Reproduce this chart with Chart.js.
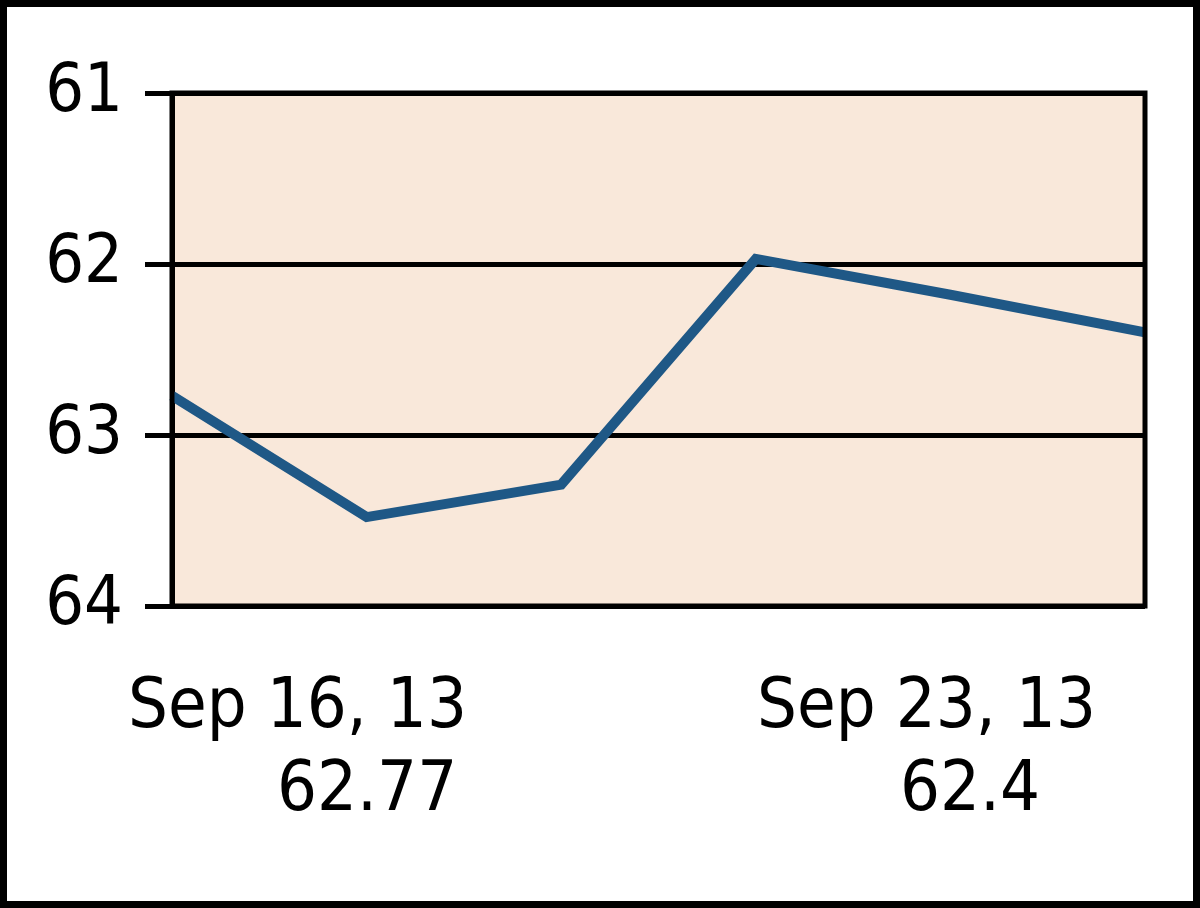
<!DOCTYPE html>
<html>
<head>
<meta charset="utf-8">
<script src="https://cdn.jsdelivr.net/npm/chart.js@4/dist/chart.umd.min.js"></script>
<style>
  html, body { margin: 0; padding: 0; background: #fff; }
  canvas { display: block; }
</style>
</head>
<body>
<canvas id="theChart" width="1200" height="908"></canvas>
<script>
"use strict";

// Data
const dates = ["Sep 16, 13", "Sep 17, 13", "Sep 18, 13", "Sep 19, 13", "Sep 20, 13", "Sep 23, 13"];
const closes = [62.77, 63.48, 63.29, 61.97, 62.18, 62.4];
const yTicks = [61, 62, 63, 64];

const fontFamily = "'Liberation Sans Narrow', 'DejaVu Sans Condensed', 'Liberation Sans', Arial, sans-serif";

// first / last label, shown under the plot as two lines
const firstLabel = [dates[0], String(closes[0])];
const lastLabel = [dates[dates.length - 1], String(closes[closes.length - 1])];

const framePlugin = {
  id: "frame",
  beforeDraw(chart) {
    const ctx = chart.ctx;
    const a = chart.chartArea;
    ctx.save();
    ctx.fillStyle = "#ffffff";
    ctx.fillRect(0, 0, chart.width, chart.height);
    // outer border
    ctx.strokeStyle = "#000";
    ctx.lineWidth = 7;
    ctx.strokeRect(3.5, 3.5, chart.width - 7, chart.height - 7);
    // plot background
    ctx.fillStyle = "#f9e8da";
    ctx.fillRect(a.left, a.top, a.right - a.left, a.bottom - a.top);
    ctx.restore();
  },
  afterDraw(chart) {
    const ctx = chart.ctx;
    const a = chart.chartArea;
    ctx.save();
    ctx.strokeStyle = "#000";
    ctx.lineWidth = 5;
    ctx.strokeRect(a.left, a.top, a.right - a.left, a.bottom - a.top);

    // bottom labels
    ctx.fillStyle = "#000";
    ctx.font = "70px " + fontFamily;
    ctx.textAlign = "left";
    ctx.textBaseline = "alphabetic";
    ctx.fillText(firstLabel[0], a.left - 44, a.bottom + 121);
    ctx.fillText(firstLabel[1], a.left + 105, a.bottom + 204);
    ctx.fillText(lastLabel[0], a.right - 388, a.bottom + 121);
    ctx.fillText(lastLabel[1], a.right - 245, a.bottom + 204);
    ctx.restore();
  }
};

new Chart(document.getElementById("theChart"), {
  type: "line",
  data: {
    labels: dates,
    datasets: [{
      data: closes,
      borderColor: "#1f5886",
      borderWidth: 10,
      pointRadius: 0,
      tension: 0,
      fill: false
    }]
  },
  options: {
    responsive: false,
    animation: false,
    events: [],
    layout: {
      padding: { left: 0, top: 93, right: 55, bottom: 302 }
    },
    plugins: {
      legend: { display: false },
      tooltip: { enabled: false }
    },
    scales: {
      x: {
        display: false
      },
      y: {
        reverse: true,
        min: 61,
        max: 64,
        afterFit: (s) => { s.width = 172; },
        afterBuildTicks: (s) => { s.ticks = yTicks.map(v => ({ value: v })); },
        grid: {
          color: "#000",
          lineWidth: 5,
          drawTicks: true,
          tickLength: 27,
          tickColor: "#000",
          tickWidth: 5
        },
        border: { color: "#000", width: 5 },
        ticks: {
          color: "#000",
          padding: 22,
          font: { family: fontFamily, size: 68 }
        }
      }
    }
  },
  plugins: [framePlugin]
});
</script>
</body>
</html>
